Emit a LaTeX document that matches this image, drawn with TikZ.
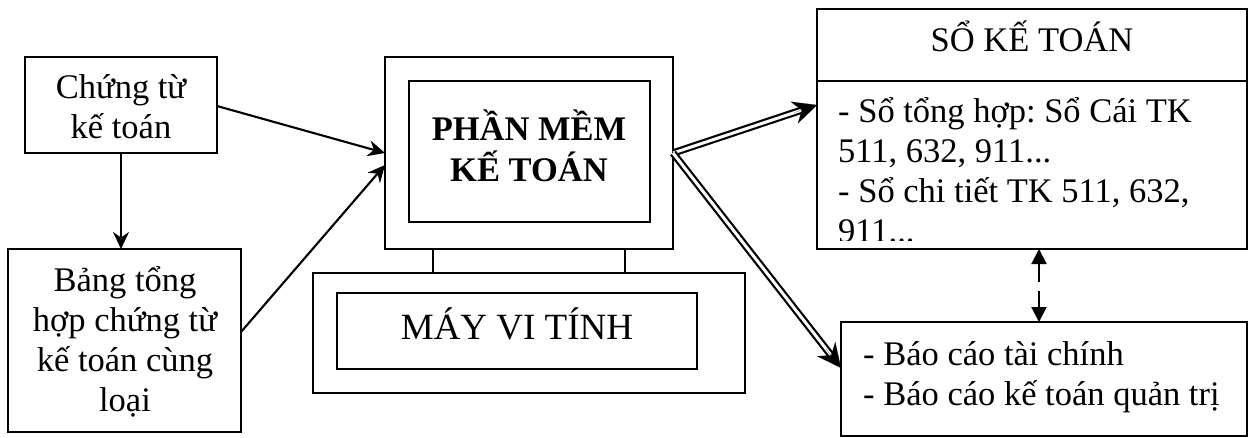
\documentclass[tikz,border=0pt]{standalone}
\usepackage{fontspec}
\setmainfont{Liberation Serif}
\usetikzlibrary{arrows.meta,calc}
\tikzset{
  boxx/.style={draw=black,line width=1.7pt,inner sep=0pt,outer sep=0pt,anchor=north west},
  txt/.style={align=center,font=\frenchspacing\fontsize{34.5}{39.7}\selectfont,inner sep=0pt,anchor=base},
  txtl/.style={align=left,font=\frenchspacing\fontsize{34.5}{39.9}\selectfont,inner sep=0pt,anchor=base west},
  arr/.style={line width=2.1pt,-{Stealth[length=17pt,width=16pt]}},
  dbl/.style={double,double distance=3pt,line width=2.2pt},
  dblhead/.style={line width=0.1pt,-{Stealth[length=24pt,width=23pt,inset=8pt]}},
  dasharr/.style={line width=2.1pt,dash pattern=on 19pt off 9pt on 40pt off 1pt,{Triangle[length=15pt,width=15pt]}-{Triangle[length=15pt,width=15pt]}}
}
\begin{document}
\begin{tikzpicture}[x=1pt,y=1pt]
\useasboundingbox (0,0) rectangle (1253,-437);
\node[boxx,minimum width=192pt,minimum height=96pt] (ct) at (25,-57) {};
\node[boxx,minimum width=233pt,minimum height=183pt] (bth) at (8,-249) {};
\node[boxx,minimum width=288pt,minimum height=192pt] (mainbox) at (385,-57) {};
\node[boxx,minimum width=241pt,minimum height=141pt] (inner) at (409,-81) {};
\node[boxx,minimum width=432pt,minimum height=120pt] (pc) at (313,-273) {};
\node[boxx,minimum width=360pt,minimum height=76pt] (pcin) at (337,-293) {};
\node[boxx,minimum width=430pt,minimum height=240pt] (so) at (817,-9) {};
\node[boxx,minimum width=406pt,minimum height=114pt] (bc) at (841,-322) {};
\coordinate (divl) at (817,-81);
\coordinate (divr) at (1247,-81);
\draw[line width=1.7pt] (divl) -- (divr);

\node[txt] (t1) at (121,-138) {Chứng từ\\kế toán};
\node[txt] (t2) at (125,-411) {Bảng tổng\\hợp chứng từ\\kế toán cùng\\loại};
\node[txt,font=\fontsize{34.5}{41}\selectfont\bfseries] (t3) at (529,-181) {PHẦN MỀM\\KẾ TOÁN};
\node[txt,font=\fontsize{37}{41}\selectfont] (t4) at (517,-339) {MÁY VI TÍNH};
\node[txt] (t5) at (1032,-51) {SỔ KẾ TOÁN};
\begin{scope}
\clip (818,-82) rectangle (1246,-240.5);
\node[txtl] (t6) at (838,-242) {- Sổ tổng hợp: Sổ Cái TK\\511, 632, 911...\\- Sổ chi tiết TK 511, 632,\\911...};
\end{scope}
\node[txtl] (t7) at (863,-405) {- Báo cáo tài chính\\- Báo cáo kế toán quản trị};

\coordinate (a1) at (217,-106);
\coordinate (a2) at (385,-153);
\coordinate (a3) at (241,-332);
\coordinate (a4) at (385,-165);
\coordinate (a5) at (121,-153);
\coordinate (a6) at (121,-249);
\draw[arr] (a1) -- (a2);
\draw[arr] (a3) -- (a4);
\draw[arr] (a5) -- (a6);

\coordinate (s1) at (433,-249);
\coordinate (s1b) at (433,-273);
\coordinate (s2) at (625,-249);
\coordinate (s2b) at (625,-273);
\draw[line width=1.7pt] (s1) -- (s1b);
\draw[line width=1.7pt] (s2) -- (s2b);

\coordinate (d0) at (673,-153);
\coordinate (d1) at (817,-105);
\coordinate (d2) at (841,-368);
\draw[dbl,shorten >=14pt] (d0) -- (d1);
\draw[dbl,shorten >=14pt] (d0) -- (d2);
\draw[dblhead] ($(d1)!24pt!(d0)$) -- (d1);
\draw[dblhead] ($(d2)!24pt!(d0)$) -- (d2);

\coordinate (v1) at (1039,-249);
\coordinate (v2) at (1039,-322);
\draw[dasharr] (v1) -- (v2);
\end{tikzpicture}
\end{document}
